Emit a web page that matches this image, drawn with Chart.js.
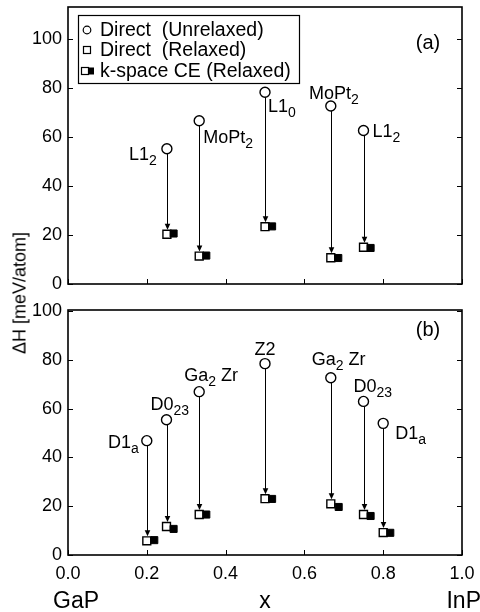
<!DOCTYPE html>
<html>
<head>
<meta charset="utf-8">
<script src="https://cdn.jsdelivr.net/npm/chart.js@4/dist/chart.umd.min.js"></script>
<style>
  body { margin: 0; background: #fff; }
  #wrap { position: relative; width: 480px; height: 612px; font-family: "Liberation Sans", Arial, sans-serif; }
  #cA { position: absolute; left: 0; top: 0; }
  #cB { position: absolute; left: 0; top: 300px; }
  #ytitle { position: absolute; left: 20px; top: 293px; transform: translate(-50%, -50%) rotate(-90deg);
            font-size: 18px; white-space: nowrap; color: #000; }
</style>
</head>
<body>
<div id="wrap">
  <canvas id="cA" width="480" height="300"></canvas>
  <canvas id="cB" width="480" height="312"></canvas>
  <div id="ytitle">ΔH [meV/atom]</div>
</div>
<script>
// axes
var xTicks = [0.0, 0.2, 0.4, 0.6, 0.8, 1.0];
var yTicks = [0, 20, 40, 60, 80, 100];
var legendLabels = ['Direct  (Unrelaxed)', 'Direct  (Relaxed)', 'k-space CE (Relaxed)'];

// panel (a)
var xA = [0.251, 0.333, 0.5, 0.667, 0.75];
var ceXA = [0.268, 0.351, 0.518, 0.686, 0.768];
var unrelaxedA = [55.2, 66.6, 78.2, 72.6, 62.6];
var relaxedA = [20.3, 11.4, 23.4, 10.7, 15.0];
var ceA = [20.6, 11.6, 23.5, 10.6, 14.7];
var namesA = [['L1', '2', ''], ['MoPt', '2', ''], ['L1', '0', ''], ['MoPt', '2', ''], ['L1', '2', '']];

// panel (b)
var xB = [0.2, 0.25, 0.333, 0.5, 0.667, 0.75, 0.8];
var ceXB = [0.219, 0.268, 0.351, 0.518, 0.687, 0.768, 0.818];
var unrelaxedB = [46.9, 55.5, 67.0, 78.5, 72.7, 63.0, 54.0];
var relaxedB = [5.8, 11.7, 16.6, 23.1, 21.0, 16.6, 9.2];
var ceB = [6.1, 10.7, 16.6, 23.0, 19.7, 16.0, 9.1];
var namesB = [['D1', 'a', ''], ['D0', '23', ''], ['Ga', '2', ' Zr'], ['Z2', '', ''],
              ['Ga', '2', ' Zr'], ['D0', '23', ''], ['D1', 'a', '']];

// label placement (pixels from the circle: dx, baseline dy, anchor)
var placeA = [[-10, 11, 'right'], [4, 22, 'left'], [3, 20, 'left'], [3, -7, 'center'], [9, 6, 'left']];
var placeB = [[-8, 7, 'right'], [-16, -10, 'left'], [-15, -11, 'left'], [0, -9, 'center'],
              [-19, -13, 'left'], [-10, -9, 'left'], [12, 16, 'left']];

var FONT = '"Liberation Sans", Arial, sans-serif';

function pts(xs, ys) {
  return xs.map(function(x, i) { return { x: x, y: ys[i] }; });
}

function datasets(xs, ceXs, un, rel, ce) {
  return [
    { label: legendLabels[0], data: pts(xs, un), pointStyle: 'circle', pointRadius: 5,
      borderColor: '#000', backgroundColor: '#fff', pointBorderWidth: 1.4 },
    { label: legendLabels[2], data: pts(ceXs, ce), pointStyle: 'rect', pointRadius: 5,
      borderColor: '#000', backgroundColor: '#000', pointBorderWidth: 1 },
    { label: legendLabels[1], data: pts(xs, rel), pointStyle: 'rect', pointRadius: 5.6,
      borderColor: '#000', backgroundColor: '#fff', pointBorderWidth: 1.4 }
  ];
}

// box, inward ticks, arrows, names
function panelPlugin(xs, un, rel, names, place, tag, extra) {
  return {
    id: 'panel' + tag,
    afterDatasetsDraw: function(chart) {
      var ctx = chart.ctx, a = chart.chartArea, sx = chart.scales.x, sy = chart.scales.y;
      ctx.save();
      ctx.strokeStyle = '#000';
      ctx.fillStyle = '#000';
      // arrows
      ctx.lineWidth = 1;
      xs.forEach(function(x, i) {
        var px = Math.round(sx.getPixelForValue(x)) + 0.5;
        var y1 = sy.getPixelForValue(un[i]) + 5;
        var y2 = sy.getPixelForValue(rel[i]) - 4.5;
        ctx.beginPath();
        ctx.moveTo(px, y1);
        ctx.lineTo(px, y2 - 5);
        ctx.stroke();
        ctx.beginPath();
        ctx.moveTo(px - 2.8, y2 - 6);
        ctx.lineTo(px + 2.8, y2 - 6);
        ctx.lineTo(px, y2);
        ctx.closePath();
        ctx.fill();
      });
      // frame
      ctx.lineWidth = 1.6;
      ctx.strokeRect(a.left, a.top, a.right - a.left, a.bottom - a.top);
      ctx.lineWidth = 1;
      xTicks.forEach(function(v) {
        var px = Math.round(sx.getPixelForValue(v)) + 0.5;
        ctx.beginPath(); ctx.moveTo(px, a.bottom); ctx.lineTo(px, a.bottom - 5); ctx.stroke();
      });
      yTicks.forEach(function(v) {
        var py = Math.round(sy.getPixelForValue(v)) + 0.5;
        ctx.beginPath(); ctx.moveTo(a.left, py); ctx.lineTo(a.left + 5, py); ctx.stroke();
        ctx.beginPath(); ctx.moveTo(a.right, py); ctx.lineTo(a.right - 5, py); ctx.stroke();
      });
      // structure names
      ctx.textBaseline = 'alphabetic';
      ctx.textAlign = 'left';
      names.forEach(function(n, i) {
        var cx = sx.getPixelForValue(xs[i]), cy = sy.getPixelForValue(un[i]);
        var p = place[i];
        ctx.font = '18px ' + FONT;
        var w0 = ctx.measureText(n[0]).width, w2 = ctx.measureText(n[2]).width;
        ctx.font = '14px ' + FONT;
        var w1 = ctx.measureText(n[1]).width;
        var total = w0 + w1 + w2;
        var left = cx + p[0];
        if (p[2] === 'right') left -= total;
        if (p[2] === 'center') left -= total / 2;
        var base = cy + p[1];
        ctx.font = '18px ' + FONT;
        ctx.fillText(n[0], left, base);
        ctx.font = '14px ' + FONT;
        ctx.fillText(n[1], left + w0, base + 5);
        ctx.font = '18px ' + FONT;
        ctx.fillText(n[2], left + w0 + w1, base);
      });
      // panel tag
      ctx.font = '20px ' + FONT;
      ctx.textAlign = 'center';
      ctx.textBaseline = 'middle';
      ctx.fillText(tag, a.right - 34, a.top + (tag === '(a)' ? 36 : 20));
      if (extra) extra(chart, ctx);
      ctx.restore();
    }
  };
}

function drawLegend(chart, ctx) {
  var bx = 78, by = 15, bw = 221, bh = 68;
  ctx.fillStyle = '#fff';
  ctx.fillRect(bx, by, bw, bh);
  ctx.fillStyle = '#000';
  ctx.lineWidth = 1.2;
  ctx.strokeRect(bx + 0.5, by + 0.5, bw, bh);
  var rows = [30, 50, 71];
  ctx.font = '19.5px ' + FONT;
  ctx.textAlign = 'left';
  ctx.textBaseline = 'middle';
  // circle
  ctx.beginPath(); ctx.arc(87, rows[0], 3.8, 0, Math.PI * 2); ctx.stroke();
  // open square
  ctx.strokeRect(83.5, rows[1] - 3.5, 7, 7);
  // open + filled
  ctx.strokeRect(81.5, rows[2] - 3.5, 7, 7);
  ctx.fillRect(88, rows[2] - 3.5, 6, 7);
  legendLabels.forEach(function(t, i) { ctx.fillText(t, 100, rows[i] + 1); });
}

function drawBottom(chart, ctx) {
  ctx.font = '23px ' + FONT;
  ctx.textBaseline = 'middle';
  ctx.textAlign = 'left';
  ctx.fillText('GaP', 53, 302);
  ctx.textAlign = 'center';
  ctx.fillText('x', 265, 302);
  ctx.textAlign = 'right';
  ctx.fillText('InP', 481, 302);
}

function options(yMax, padTop, xHeight, showX) {
  return {
    responsive: false,
    animation: false,
    layout: { padding: { top: padTop, right: 18, left: 0, bottom: 0 } },
    plugins: { legend: { display: false }, tooltip: { enabled: false } },
    scales: {
      x: {
        type: 'linear', min: 0, max: 1,
        grid: { display: false, drawTicks: false },
        border: { display: false },
        ticks: {
          display: showX, stepSize: 0.2, padding: 8, color: '#000',
          font: { size: 18, family: FONT },
          callback: function(v) { return v.toFixed(1); }
        },
        afterFit: function(s) { s.height = xHeight; s.paddingLeft = 0; s.paddingRight = 0; }
      },
      y: {
        min: 0, max: yMax,
        grid: { display: false, drawTicks: false },
        border: { display: false },
        ticks: {
          stepSize: 20, includeBounds: false, padding: 6, color: '#000',
          font: { size: 18, family: FONT }
        },
        afterFit: function(s) { s.width = 68; s.paddingTop = 0; s.paddingBottom = 0; }
      }
    }
  };
}

new Chart(document.getElementById('cA'), {
  type: 'scatter',
  data: { datasets: datasets(xA, ceXA, unrelaxedA, relaxedA, ceA) },
  options: options(113, 7, 16, false),
  plugins: [panelPlugin(xA, unrelaxedA, relaxedA, namesA, placeA, '(a)', drawLegend)]
});

new Chart(document.getElementById('cB'), {
  type: 'scatter',
  data: { datasets: datasets(xB, ceXB, unrelaxedB, relaxedB, ceB) },
  options: options(100.5, 10, 57, true),
  plugins: [panelPlugin(xB, unrelaxedB, relaxedB, namesB, placeB, '(b)', drawBottom)]
});
</script>
</body>
</html>
